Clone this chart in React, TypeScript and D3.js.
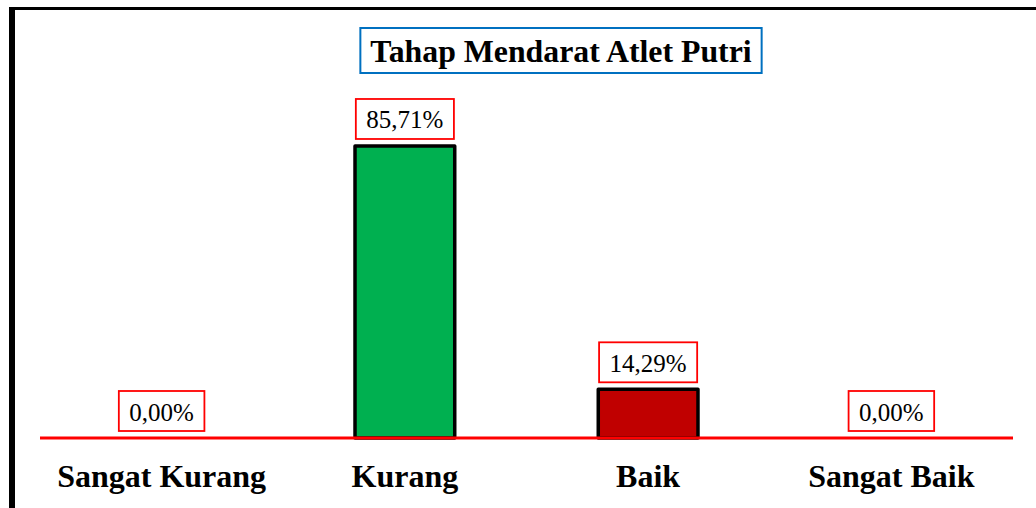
import React, { useLayoutEffect, useRef, useState } from "react";
import * as d3 from "d3";

const categories = ["Sangat Kurang", "Kurang", "Baik", "Sangat Baik"];
const values = [0, 85.71, 14.29, 0];
const valueLabels = ["0,00%", "85,71%", "14,29%", "0,00%"];
const barColors = ["#00B050", "#00B050", "#C00000", "#C00000"];
const title = "Tahap Mendarat Atlet Putri";

const W = 1036;
const H = 508;
const FONT = "'Liberation Serif', 'Times New Roman', serif";

function BoxedText({ x, yBottom, text, fontSize, stroke, bold, padX, height, strokeWidth }: any) {
  const ref = useRef<SVGTextElement>(null);
  const [w, setW] = useState(0);
  useLayoutEffect(() => {
    if (ref.current) setW(ref.current.getComputedTextLength());
  }, [text]);
  const bw = w + padX * 2;
  const top = yBottom - height;
  return (
    <g>
      <rect x={x - bw / 2} y={top} width={bw} height={height} fill="#fff" stroke={stroke} strokeWidth={strokeWidth} />
      <text
        ref={ref}
        x={x}
        y={top + height / 2 + 1}
        textAnchor="middle"
        dominantBaseline="central"
        fontFamily={FONT}
        fontSize={fontSize}
        fontWeight={bold ? "bold" : "normal"}
        fill="#000"
      >
        {text}
      </text>
    </g>
  );
}

export default function App() {
  const x = d3.scaleBand<string>().domain(categories).range([40, 1013]).paddingInner(0.59).paddingOuter(0.295);
  const y = d3.scaleLinear().domain([0, 100]).range([438, 97.3]);
  const baseY = y(0);
  return (
    <svg width={W} height={H} style={{ position: "absolute", left: 0, top: 0, background: "#fff" }}>
      <rect x={0} y={0} width={W} height={H} fill="#fff" />
      {/* frame */}
      <line x1={12} y1={7} x2={12} y2={H} stroke="#000" strokeWidth={6} />
      <line x1={9} y1={8.5} x2={W} y2={8.5} stroke="#000" strokeWidth={3} />
      {/* title */}
      <BoxedText x={561} yBottom={73} text={title} fontSize={31.8} stroke="#0070C0" bold padX={10} height={45} strokeWidth={2} />
      {/* bars */}
      {categories.map((c, i) =>
        values[i] > 0 ? (
          <rect
            key={c}
            x={x(c)!}
            y={y(values[i])}
            width={x.bandwidth()}
            height={baseY - y(values[i])}
            fill={barColors[i]}
            stroke="#000"
            strokeWidth={3.5}
            strokeLinejoin="round"
          />
        ) : null
      )}
      {/* baseline */}
      <line x1={40} y1={baseY} x2={1013} y2={baseY} stroke="#FF0000" strokeWidth={3} />
      {/* value labels */}
      {categories.map((c, i) => (
        <BoxedText
          key={c}
          x={x(c)! + x.bandwidth() / 2}
          yBottom={y(values[i]) - 7}
          text={valueLabels[i]}
          fontSize={25}
          stroke="#FF0000"
          padX={10.5}
          height={40}
          strokeWidth={1.8}
        />
      ))}
      {/* category labels */}
      {categories.map((c) => (
        <text
          key={c}
          x={x(c)! + x.bandwidth() / 2}
          y={487}
          textAnchor="middle"
          fontFamily={FONT}
          fontWeight="bold"
          fontSize={32}
          fill="#000"
        >
          {c}
        </text>
      ))}
    </svg>
  );
}
